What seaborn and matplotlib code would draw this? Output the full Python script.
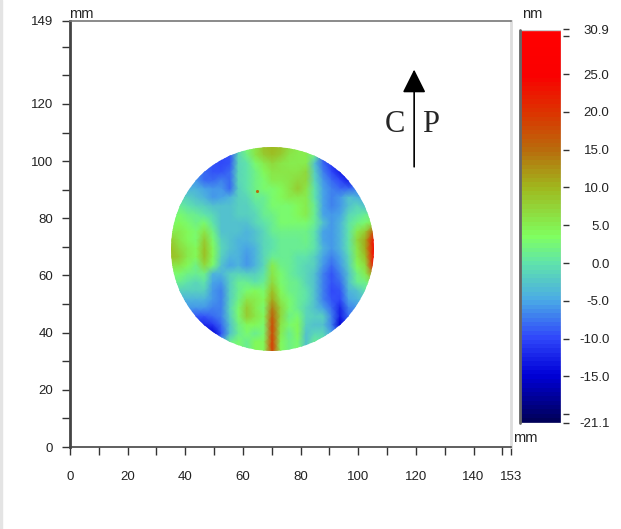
import numpy as np
import matplotlib
matplotlib.use('Agg')
import matplotlib.pyplot as plt
from matplotlib.colors import LinearSegmentedColormap
from matplotlib.patches import Circle, Rectangle
import seaborn as sns

# surface height (nm), top row first
r00 = [-5, -5, -6, -7, -8, -9, -10, -9, -1, 3, 6, 9, 10, 9, 7, 5, 5, 2, -9, -12, -13, -12, -10, -8, -6]
r01 = [-6, -6, -6, -7, -8, -9, -10, -9, -1, 2, 6, 8, 9, 8, 6, 5, 5, 2, -9, -12, -14, -14, -12, -10, -8]
r02 = [-6, -6, -6, -7, -8, -9, -10, -9, -1, 0, 3, 5, 7, 6, 5, 5, 5, -3, -8, -11, -14, -15, -13, -10, -8]
r03 = [-5, -5, -6, -7, -8, -9, -9, -8, -1, 0, 2, 4, 6, 6, 6, 6, 7, -2, -7, -10, -13, -14, -13, -10, -8]
r04 = [-5, -5, -6, -6, -8, -8, -7, -8, -1, 0, 2, 3, 5, 5, 6, 7, 7, -1, -6, -8, -10, -13, -11, -9, -8]
r05 = [-4, -4, -4, -4, -5, -6, -6, -8, -2, 0, 2, 3, 3, 4, 6, 8, 6, 0, -5, -7, -8, -8, -7, -8, -7]
r06 = [-1, -1, -2, -3, -4, -6, -5, -4, -2, -1, 1, 1, 3, 4, 5, 5, 5, 0, -5, -7, -6, -3, -4, -5, -5]
r07 = [1, 1, 0, -1, -2, -3, -3, -3, -2, -2, 0, 1, 3, 3, 3, 4, 5, 1, -5, -7, -6, -3, -1, -3, -4]
r08 = [2, 3, 2, 1, 0, -1, -3, -3, -2, -2, -1, 1, 2, 3, 3, 4, 5, 1, -5, -6, -5, -1, 0, 1, 1]
r09 = [3, 4, 3, 2, 3, 0, -3, -3, -3, -3, -1, 0, 1, 3, 3, 3, 3, 1, -3, -6, -4, 0, 2, 3, 6]
r10 = [5, 5, 4, 3, 6, 2, -3, -3, -3, -4, -3, -1, 1, 2, 2, 2, 2, 0, -5, -6, -4, 0, 5, 8, 17]
r11 = [8, 6, 4, 3, 8, 3, -2, -3, -4, -4, -3, -1, 0, 1, 1, 1, 2, 0, -5, -6, -4, 0, 7, 11, 24]
r12 = [9, 7, 5, 4, 9, 4, -1, -3, -4, -5, -4, -1, 0, 1, 1, 1, 1, 0, -4, -6, -4, 0, 6, 11, 28]
r13 = [9, 8, 5, 4, 9, 4, -2, -4, -4, -6, -4, -1, 1, 1, 1, 0, 0, -2, -5, -7, -5, -1, 5, 9, 29]
r14 = [6, 6, 4, 2, 7, 3, -3, -5, -4, -6, -4, -1, 5, 2, 1, 0, -1, -2, -6, -8, -6, -2, 4, 7, 24]
r15 = [3, 3, 2, 1, 2, -4, -4, -2, -1, -2, -2, 0, 6, 3, 1, 0, -1, -3, -7, -9, -7, -3, 2, 5, 13]
r16 = [1, 1, 0, -1, 0, -5, -6, -2, 1, 1, 0, 1, 7, 3, 2, 1, -1, -3, -7, -9, -8, -3, 1, 2, 4]
r17 = [-2, -2, -2, -2, -2, -6, -7, -2, 1, 3, 4, 3, 9, 4, 2, 1, 0, -3, -7, -10, -9, -4, -3, 0, 2]
r18 = [-4, -4, -4, -4, -4, -6, -7, -2, 2, 6, 5, 4, 11, 5, 3, 1, 0, -3, -7, -9, -10, -5, -4, -3, -2]
r19 = [-6, -6, -6, -6, -6, -7, -7, -1, 3, 8, 5, 3, 14, 7, 3, 1, -1, -3, -5, -8, -12, -7, -6, -5, -5]
r20 = [-9, -9, -9, -9, -9, -8, -7, -2, 3, 8, 6, 4, 16, 7, 2, 3, -1, -2, -2, -7, -13, -8, -7, -7, -7]
r21 = [-12, -12, -12, -12, -12, -11, -8, -3, 2, 4, 4, 3, 18, 6, 3, 4, -2, -3, -3, -7, -15, -9, -8, -8, -8]
r22 = [-12, -12, -13, -14, -15, -15, -9, -3, 1, 3, 1, 3, 18, 5, 1, 4, -3, -1, -1, -5, -10, -8, -8, -8, -8]
r23 = [-10, -10, -11, -12, -14, -14, -5, 1, 3, 1, 4, 4, 19, 4, 2, 3, -3, 1, 0, -5, -8, -8, -8, -8, -8]
r24 = [-10, -10, -11, -12, -14, -14, -5, 1, 3, 1, 4, 4, 19, 4, 2, 3, -3, 1, 0, -5, -8, -8, -8, -8, -8]
height_rows = [r00, r01, r02, r03, r04, r05, r06, r07, r08, r09, r10, r11, r12,
               r13, r14, r15, r16, r17, r18, r19, r20, r21, r22, r23, r24]

scale_min = -21.1
scale_max = 30.9
scale_ticks = [-21.1, -20, -15, -10, -5, 0, 5, 10, 15, 20, 25, 30, 30.9]
scale_labels = ['-21.1', '', '-15.0', '-10.0', '-5.0', '0.0', '5.0', '10.0', '15.0', '20.0', '25.0', '', '30.9']
scale_colors = [(-21.1, '#00005a'), (-15, '#0000d8'), (-10, '#3048fa'), (-5, '#4aaae6'), (0, '#60e4aa'),
                (3.5, '#80ff60'), (5, '#86ee50'), (10, '#a0b81e'), (15, '#b86c0c'), (20, '#dc3400'), (25, '#fa0000'), (30.9, '#ff0000')]

x_ticks = [0, 10, 20, 30, 40, 50, 60, 70, 80, 90, 100, 110, 120, 130, 140, 150, 153]
x_labels = ['0', '', '20', '', '40', '', '60', '', '80', '', '100', '', '120', '', '140', '', '153']
y_ticks = [0, 10, 20, 30, 40, 50, 60, 70, 80, 90, 100, 110, 120, 130, 140, 149]
y_labels = ['0', '', '20', '', '40', '', '60', '', '80', '', '100', '', '120', '', '', '149']

spot_col = [10.2]
spot_row = [5.2]
spot_val = [15]

W, H = 621, 529


def px_axes(x0, y0, x1, y1, **kw):
    return fig.add_axes([x0 / W, 1 - y1 / H, (x1 - x0) / W, (y1 - y0) / H], **kw)


sns.set_style('white')
plt.rcParams['font.family'] = ['Liberation Sans', 'DejaVu Sans']
plt.rcParams['font.size'] = 9.5

fig = plt.figure(figsize=(W / 100, H / 100), dpi=100)
fig.patches.append(Rectangle((0, 0), 2 / W, 1, transform=fig.transFigure, color='#e4e4e4'))

cmap = LinearSegmentedColormap.from_list(
    'wafer', [((v - scale_min) / (scale_max - scale_min), c) for v, c in scale_colors], N=90)

ax = px_axes(70, 21, 511, 447)
ax.set_xlim(0, 153)
ax.set_ylim(0, 149)
ax.set_xticks(x_ticks, x_labels)
ax.set_yticks(y_ticks, y_labels)
ax.tick_params(axis='both', length=6, width=1, color='#333333', labelcolor='#222222', labelsize=9.5)
ax.tick_params(axis='x', pad=11.5, bottom=True)
ax.tick_params(axis='y', pad=6, left=True)
for side, col, lw in [('left', '#444444', 2), ('bottom', '#444444', 1.2), ('top', '#777777', 1.2), ('right', '#dddddd', 2)]:
    ax.spines[side].set_color(col)
    ax.spines[side].set_linewidth(lw)
    ax.spines[side].set_visible(True)
fig.text(69 / W, 1 - 14 / H, 'mm', fontsize=10.5, va='center', color='#222222')
fig.text(513 / W, 1 - 438 / H, 'mm', fontsize=10.5, va='center', color='#222222')
fig.text(522 / W, 1 - 14 / H, 'nm', fontsize=10.5, va='center', color='#222222')

ax.annotate('', xy=(119.4, 132), xytext=(119.4, 98),
            arrowprops=dict(arrowstyle='-|>,head_length=0.9,head_width=0.45', color='black', lw=1.2,
                            mutation_scale=16, shrinkA=0, shrinkB=0))
fig.text(395 / W, 1 - 125 / H, 'C', family='Liberation Serif', fontsize=22, ha='center', va='center')
fig.text(431 / W, 1 - 125 / H, 'P', family='Liberation Serif', fontsize=22, ha='center', va='center')

heights = np.array(height_rows, dtype=float)
n = heights.shape[0]

cax = px_axes(520, 29.5, 561, 422.5)
hax = px_axes(170.5, 146.5, 374, 350.5)
hax.patch.set_alpha(0)
sns.heatmap(heights, ax=hax, cmap=cmap, vmin=scale_min, vmax=scale_max, cbar=True, cbar_ax=cax,
            xticklabels=False, yticklabels=False, shading='gouraud', linewidths=0)
hax.set_xlim(0, n - 1)
hax.set_ylim(n - 1, 0)
disc = Circle(((n - 1) / 2, (n - 1) / 2), (n - 1) / 2, transform=hax.transData, facecolor='none', edgecolor='none')
hax.add_patch(disc)
hax.collections[0].set_clip_path(disc)
hax.scatter(spot_col, spot_row, c=spot_val, cmap=cmap, vmin=scale_min, vmax=scale_max, s=5, linewidths=0, zorder=3)
hax.axis('off')

# colour bar: frame on the bar, ticks on a thin axis just beside it
cbar = hax.collections[0].colorbar
cbar.outline.set_visible(False)
cax.set_yticks([])
cax.add_patch(Rectangle((0, 0), 1, 1, transform=cax.transAxes, fill=False, edgecolor='#cccccc', lw=1))
cax.plot([0, 0], [0, 1], transform=cax.transAxes, color='#666666', lw=2, clip_on=False)

tax = px_axes(563, 29.5, 563.01, 422.5)
tax.patch.set_alpha(0)
tax.set_ylim(scale_min, scale_max)
tax.set_xticks([])
tax.yaxis.tick_right()
tax.set_yticks(scale_ticks, scale_labels)
tax.tick_params(axis='y', right=True, length=4.5, width=1, color='#333333', labelcolor='#222222', labelsize=9.5, pad=29)
for lab in tax.get_yticklabels():
    lab.set_ha('right')
sns.despine(ax=tax, left=True, right=True, top=True, bottom=True)

fig.savefig('out.png', dpi=100)
